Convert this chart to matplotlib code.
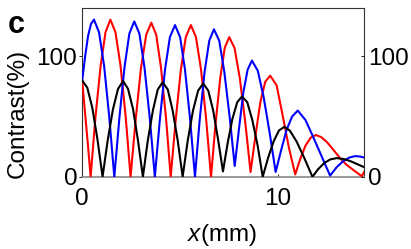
import matplotlib
matplotlib.use("Agg")
import matplotlib.pyplot as plt

plt.rcParams['font.family'] = ['Liberation Sans', 'DejaVu Sans']
plt.rcParams['mathtext.fontset'] = 'custom'
plt.rcParams['mathtext.it'] = 'Liberation Sans:italic'
plt.rcParams['mathtext.rm'] = 'Liberation Sans'

# Red curve
red_x = [0, 0.14, 0.29, 0.43, 0.68, 0.94, 1.19, 1.44, 1.70, 1.96, 2.22, 2.47,
         2.74, 3.00, 3.27, 3.53, 3.78, 4.03, 4.28, 4.52, 4.78, 5.04, 5.29, 5.55,
         5.81, 6.07, 6.33, 6.58, 6.81, 7.05, 7.28, 7.51, 7.78, 8.05, 8.33, 8.60,
         8.84, 9.10, 9.35, 9.60, 9.93, 10.25, 10.56, 10.88, 11.14, 11.41, 11.67,
         11.94, 12.20, 12.49, 12.80, 13.17, 13.50, 13.90, 14.28, 14.40]
red_y = [80, 54, 27, 0, 50, 92, 120, 130.5, 120, 92, 50, 0,
         49, 90, 118, 128, 118, 90, 49, 0, 48, 89, 116, 126,
         116, 89, 48, 0, 44, 82, 107, 116, 107, 82, 45, 4,
         33, 62, 79, 84, 76, 50, 24, 2, 15, 26, 32.5,
         34.7, 33, 29, 23, 15.5, 10, 5, 0.5, 4]

# Blue curve
blue_x = [0, 0.15, 0.30, 0.45, 0.60, 0.86, 1.12, 1.38, 1.64, 1.90, 2.16, 2.41,
          2.66, 2.92, 3.18, 3.45, 3.71, 3.97, 4.23, 4.48, 4.74, 5.00, 5.25, 5.51,
          5.76, 6.00, 6.25, 6.49, 6.73, 7.00, 7.26, 7.53, 7.79, 8.01, 8.23, 8.45,
          8.67, 8.97, 9.27, 9.58, 9.88, 10.16, 10.44, 10.72, 11.01, 11.41, 11.80,
          12.23, 12.66, 13.00, 13.33, 13.65, 13.95, 14.20, 14.40]
blue_y = [80, 100, 117, 127, 130.6, 120, 92, 50, 0, 49, 91, 119,
          129, 119, 91, 49, 0, 48, 89, 116, 126, 116, 89, 48,
          0, 47, 87, 113, 122.5, 113, 87, 50, 9, 40, 70, 89,
          96.5, 88, 66, 36, 4, 22, 39, 50, 55, 47, 33,
          17, 1, 8, 13, 16, 17.2, 16.8, 16]

# Black curve
black_x = [0, 0.26, 0.52, 0.78, 1.04, 1.30, 1.57, 1.83, 2.09, 2.34, 2.60, 2.85,
           3.10, 3.35, 3.61, 3.86, 4.11, 4.37, 4.62, 4.88, 5.13, 5.39, 5.66, 5.92,
           6.18, 6.44, 6.69, 6.94, 7.19, 7.43, 7.67, 7.92, 8.16, 8.43, 8.69, 8.96,
           9.22, 9.50, 9.78, 10.05, 10.33, 10.61, 10.96, 11.36, 11.76, 12.06, 12.37,
           12.68, 13.00, 13.35, 13.70, 14.05, 14.40]
black_y = [80, 74, 57, 31, 0, 30, 56, 73, 79.5, 73, 56, 30,
           0, 30, 55, 72.5, 78.5, 72.5, 55, 30, 0, 30, 55, 71.5,
           77.5, 71.5, 55, 31, 4.5, 28, 48, 62, 66.7, 62, 47, 26,
           0, 16, 29.5, 38.5, 41.5, 38.3, 29, 15, 0, 6.5, 11.5,
           14.5, 15.5, 14.8, 13, 10.5, 8]

x_ticks = [0, 10]
y_ticks = [0, 100]

fig = plt.figure(figsize=(4.11, 2.49), dpi=100)
ax = fig.add_axes([0.2, 0.29, 0.685, 0.677])
lw = 1.5
ax.plot(red_x, red_y, color='#ff0000', lw=lw, zorder=3)
ax.plot(blue_x, blue_y, color='#0000ff', lw=lw, zorder=3)
ax.plot(black_x, black_y, color='#000000', lw=lw, zorder=4)

ax.set_xlim(0, 14.38)
ax.set_ylim(0, 140)
ax.set_xticks(x_ticks)
ax.set_yticks(y_ticks)
fs = 17.5
ax.tick_params(axis='x', direction='in', length=2.5, width=0.6, pad=8, labelsize=fs, colors='#000000')
ax.tick_params(axis='y', direction='out', length=2.5, width=0.6, pad=1, labelsize=fs)
for s in ax.spines.values():
    s.set_color('#333333')
    s.set_linewidth(0.8)
ax.spines['bottom'].set_color('#888888')
ax.spines['bottom'].set_linewidth(1.2)

ax2 = ax.twinx()
ax2.set_ylim(0, 140)
ax2.set_yticks(y_ticks)
ax2.tick_params(axis='y', direction='in', length=2.5, width=0.6, pad=3, labelsize=fs)
for s in ax2.spines.values():
    s.set_visible(False)

ax.set_ylabel('Contrast(%)', fontsize=fs)
ax.yaxis.set_label_coords(-0.19, 0.375)
ax.set_xlabel(r'$\mathit{x}$(mm)', fontsize=fs)
ax.xaxis.set_label_coords(0.498, -0.27)

fig.text(0.02, 0.868, 'c', fontsize=22, fontweight='bold')

fig.savefig('out.png', dpi=100)
